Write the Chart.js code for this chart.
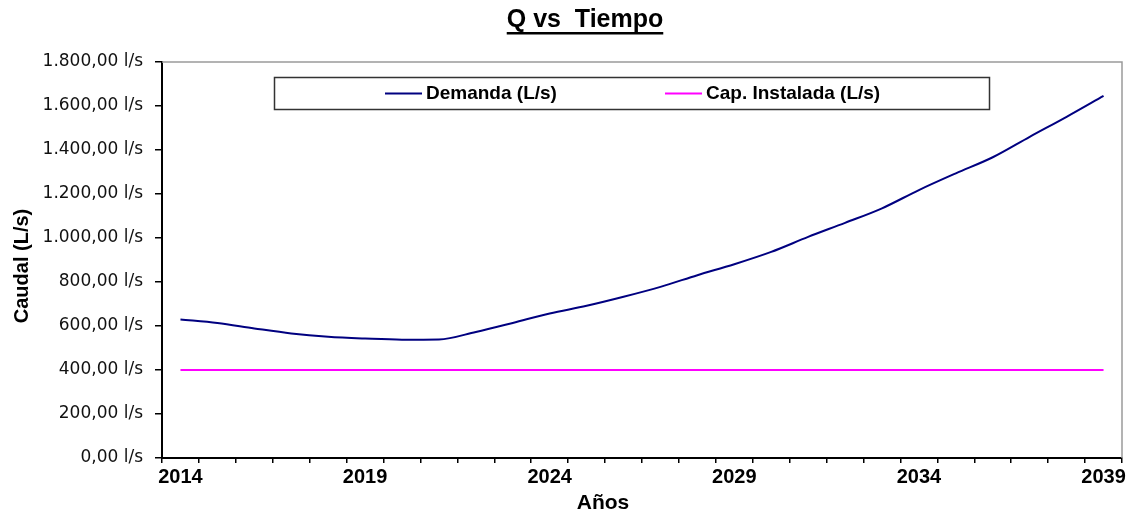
<!DOCTYPE html>
<html>
<head>
<meta charset="utf-8">
<script src="https://cdn.jsdelivr.net/npm/chart.js@4"></script>
<style>
  body { margin: 0; background: #fff; }
  canvas { display: block; }
</style>
</head>
<body>
<canvas id="grafico" width="1128" height="514"></canvas>
<script>
// datos
const anios = ['2014','2015','2016','2017','2018','2019','2020','2021','2022','2023','2024','2025','2026',
               '2027','2028','2029','2030','2031','2032','2033','2034','2035','2036','2037','2038','2039'];
const demanda = [630, 614, 589, 566, 551, 543, 538, 539, 573, 614, 657, 692, 733,
                 778, 831, 881, 937, 1005, 1069, 1135, 1218, 1294, 1367, 1460, 1551, 1646];
const capInstalada = [400, 400, 400, 400, 400, 400, 400, 400, 400, 400, 400, 400, 400,
                      400, 400, 400, 400, 400, 400, 400, 400, 400, 400, 400, 400, 400];
const etiquetasX = ['2014', '2019', '2024', '2029', '2034', '2039'];
const titulo = 'Q vs  Tiempo';
const tituloY = 'Caudal (L/s)';
const tituloX = 'Años';

// formato 1.800,00 l/s
function formatoCaudal(v) {
  const partes = v.toFixed(2).split('.');
  const entero = partes[0].replace(/\B(?=(\d{3})+(?!\d))/g, '.');
  return entero + ',' + partes[1] + ' l/s';
}

// titulos, leyenda y bordes dibujados a mano (estilo Excel)
const decorado = {
  id: 'decorado',
  afterDraw(chart) {
    const ctx = chart.ctx;
    const area = chart.chartArea;
    ctx.save();

    // borde gris arriba y derecha
    ctx.strokeStyle = '#9a9a9a';
    ctx.lineWidth = 1.5;
    ctx.beginPath();
    ctx.moveTo(area.left, area.top);
    ctx.lineTo(area.right, area.top);
    ctx.lineTo(area.right, area.bottom);
    ctx.stroke();

    // titulo subrayado
    ctx.fillStyle = '#000';
    ctx.font = 'bold 25px "Liberation Sans", Arial, sans-serif';
    ctx.textAlign = 'center';
    ctx.textBaseline = 'middle';
    ctx.fillText(titulo, 585, 20);
    const w = ctx.measureText(titulo).width;
    ctx.fillRect(585 - w / 2, 32, w, 2.5);

    // titulo eje X
    ctx.font = 'bold 21px "Liberation Sans", Arial, sans-serif';
    ctx.fillText(tituloX, 603, 503);

    // titulo eje Y
    ctx.save();
    ctx.translate(22, 266);
    ctx.rotate(-Math.PI / 2);
    ctx.font = 'bold 20px "Liberation Sans", Arial, sans-serif';
    ctx.fillText(tituloY, 0, 0);
    ctx.restore();

    // leyenda
    ctx.strokeStyle = '#333';
    ctx.lineWidth = 1.5;
    ctx.strokeRect(274.5, 77.5, 715, 32);
    const posiciones = [385, 665];
    ctx.font = 'bold 19px "Liberation Sans", Arial, sans-serif';
    ctx.textAlign = 'left';
    chart.data.datasets.forEach((ds, i) => {
      const x = posiciones[i];
      ctx.strokeStyle = ds.borderColor;
      ctx.lineWidth = 2;
      ctx.beginPath();
      ctx.moveTo(x, 93.5);
      ctx.lineTo(x + 37, 93.5);
      ctx.stroke();
      ctx.fillStyle = '#000';
      ctx.fillText(ds.label, x + 41, 94);
    });
    ctx.restore();
  }
};

const ctx = document.getElementById('grafico').getContext('2d');
new Chart(ctx, {
  type: 'line',
  data: {
    labels: anios,
    datasets: [
      {
        label: 'Demanda (L/s)',
        data: demanda,
        borderColor: '#000080',
        borderWidth: 2,
        pointRadius: 0,
        cubicInterpolationMode: 'monotone',
        fill: false
      },
      {
        label: 'Cap. Instalada (L/s)',
        data: capInstalada,
        borderColor: '#ff00ff',
        borderWidth: 2,
        pointRadius: 0,
        fill: false
      }
    ]
  },
  options: {
    responsive: false,
    animation: false,
    layout: { padding: { left: 0, right: 6, top: 62, bottom: 0 } },
    plugins: {
      legend: { display: false },
      title: { display: false },
      tooltip: { enabled: false }
    },
    scales: {
      x: {
        type: 'category',
        offset: true,
        afterFit: s => { s.height = 56; },
        grid: {
          offset: true,
          drawOnChartArea: false,
          drawTicks: true,
          tickLength: 5,
          color: '#000',
          lineWidth: 1.5
        },
        border: { display: true, color: '#000', width: 2 },
        ticks: {
          autoSkip: false,
          maxRotation: 0,
          padding: 2,
          color: '#000',
          font: { family: '"Liberation Sans", Arial, sans-serif', size: 20, weight: 'bold' },
          callback: function (val, idx) {
            const lab = this.getLabelForValue(val);
            return etiquetasX.includes(lab) ? lab : '';
          }
        }
      },
      y: {
        min: 0,
        max: 1800,
        afterFit: s => { s.width = 162; },
        grid: {
          drawOnChartArea: false,
          drawTicks: true,
          tickLength: 7,
          color: '#000',
          lineWidth: 1.5
        },
        border: { display: true, color: '#000', width: 2 },
        ticks: {
          stepSize: 200,
          padding: 12,
          color: '#111',
          font: { family: '"DejaVu Sans", Verdana, sans-serif', size: 17 },
          callback: v => formatoCaudal(v)
        }
      }
    }
  },
  plugins: [decorado]
});
</script>
</body>
</html>
